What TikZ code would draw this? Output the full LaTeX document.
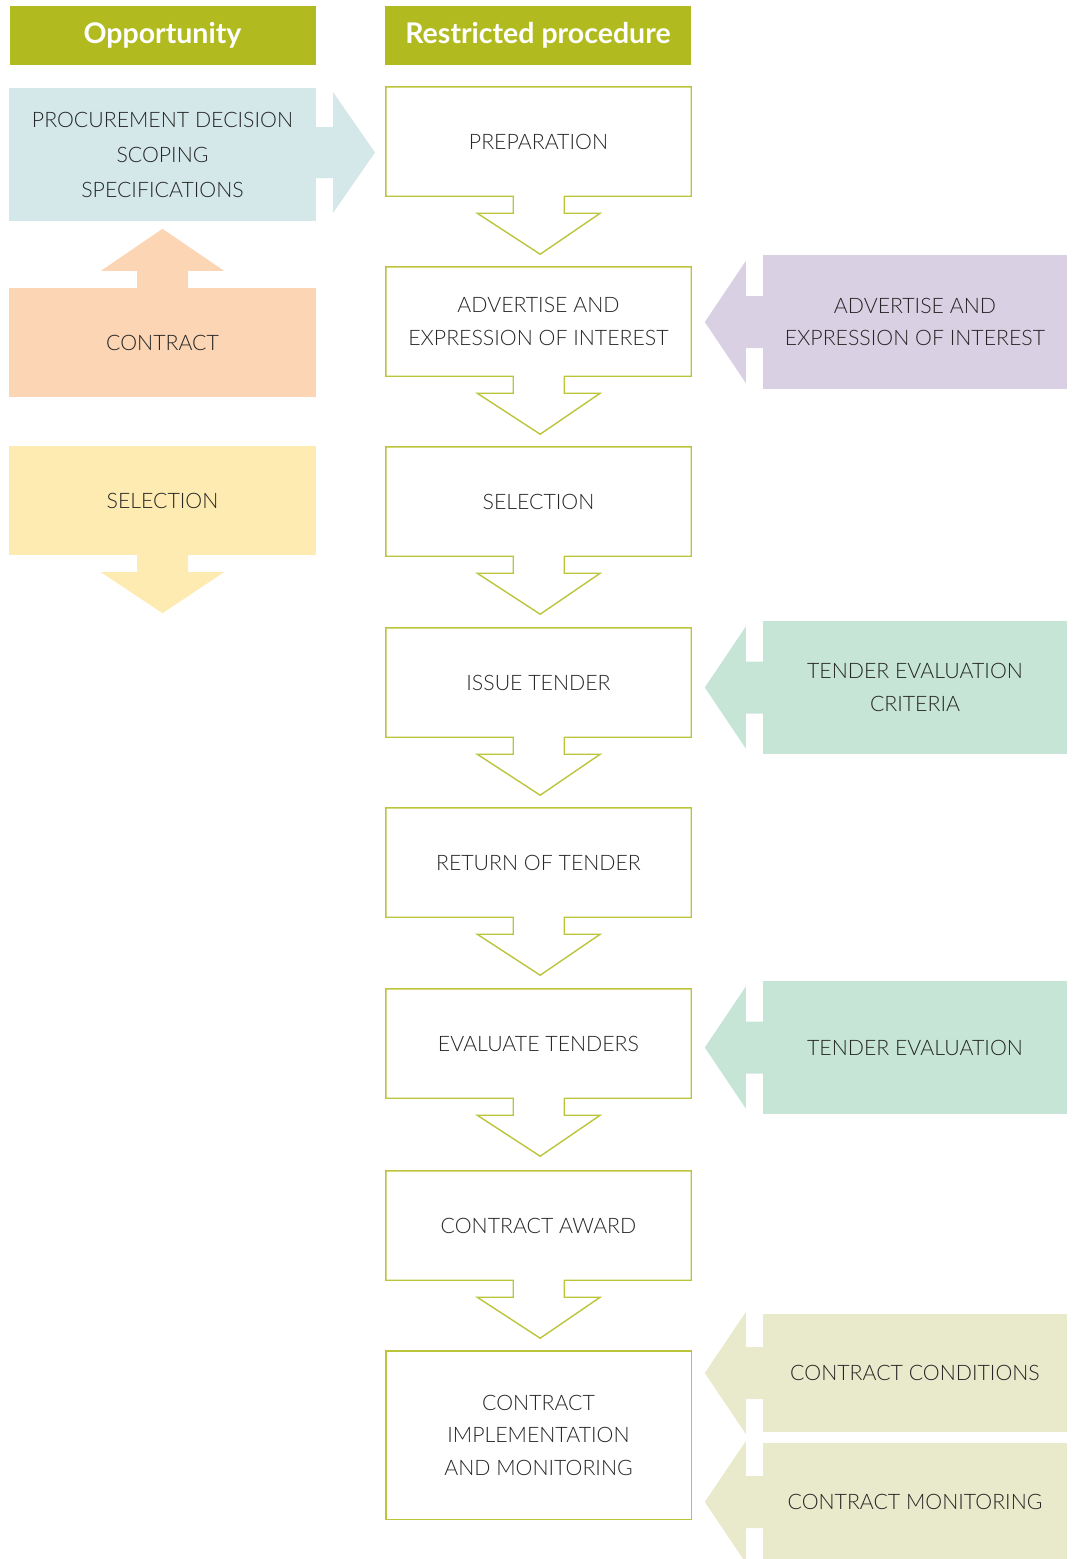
\documentclass[tikz,border=0pt]{standalone}
\usepackage{fontspec}
\setmainfont{Lato}[UprightFont=* Light, BoldFont=* Bold]
\definecolor{hdrgreen}{HTML}{B1BA1E}
\definecolor{stepline}{HTML}{BCC53A}
\definecolor{txt}{HTML}{262626}
\definecolor{cblue}{HTML}{D5E8E9}
\definecolor{cpeach}{HTML}{FCD5B4}
\definecolor{cyellow}{HTML}{FEEBB2}
\definecolor{cpurple}{HTML}{D9D0E3}
\definecolor{cmint}{HTML}{C6E5D6}
\definecolor{colive}{HTML}{E9EACB}
\begin{document}
\begin{tikzpicture}[x=1pt,y=-1pt,
  hdr/.style={fill=hdrgreen,text=white,font=\fontsize{28.5}{31}\selectfont\bfseries,
    minimum width=306pt,minimum height=59pt,inner sep=0pt},
  lbl/.style={text=txt,font=\fontsize{21.3}{32.5}\selectfont,align=center,inner sep=0pt},
  stepbox/.style={lbl,minimum width=305pt,minimum height=109pt},
  sidebox/.style={lbl,minimum width=307pt,inner sep=0pt},
  infobox/.style={lbl,minimum width=304pt,inner sep=0pt},
  outline/.style={draw=stepline,line width=1.4pt,line join=miter}]
\useasboundingbox (0,0) rectangle (1074,1559);

% column headers
\node[hdr] (hopp) at (162.5,35.5) {Opportunity};
\node[hdr] (hproc) at (538,35.5) {Restricted procedure};

% outline of a procedure step with its down arrow
\newcommand\stepdown[1]{%
  \draw[outline] (#1.north west) -- (#1.north east) -- (#1.south east)
    -- ++(-127,0) -- ++(0,17) -- ++(36,0) -- ++(-60,41) -- ++(-63,-41)
    -- ++(36,0) -- ++(0,-17) -- (#1.south west) -- cycle;}
% left-pointing arrow attached to an information box
\newcommand\pointleft[2]{%
  \fill[#2] (#1.west) ++(0,-26) -- ++(-17,0) -- ++(0,-35) -- ++(-41,61)
    -- ++(41,61) -- ++(0,-35) -- ++(17,0) -- cycle;}

% procedure steps
\node[stepbox] (prep) at (538.5,141.5) {PREPARATION};
\node[stepbox] (adv)  at (538.5,321.5) {ADVERTISE AND\\EXPRESSION OF INTEREST};
\node[stepbox] (sel)  at (538.5,501.5) {SELECTION};
\node[stepbox] (iss)  at (538.5,682.5) {ISSUE TENDER};
\node[stepbox] (ret)  at (538.5,862.5) {RETURN OF TENDER};
\node[stepbox] (eva)  at (538.5,1043.5) {EVALUATE TENDERS};
\node[stepbox] (awd)  at (538.5,1225.5) {CONTRACT AWARD};
\node[stepbox,minimum height=168pt] (imp) at (538.5,1435) {CONTRACT\\IMPLEMENTATION\\AND MONITORING};
\foreach \s in {prep,adv,sel,iss,ret,eva,awd} {\stepdown{\s}}
\draw[outline] (imp.north west) rectangle (imp.south east);

% opportunity column
\node[sidebox,fill=cblue,minimum height=133pt,font=\fontsize{21.3}{35}\selectfont] (opp) at (162.5,154.5)
  {PROCUREMENT DECISION\\SCOPING\\SPECIFICATIONS};
\fill[cblue] (316,127) -- (333,127) -- (333,92) -- (375,152.5) -- (333,213)
  -- (333,178) -- (316,178) -- cycle;

\node[sidebox,fill=cpeach,minimum height=109pt] (con) at (162.5,342.5) {CONTRACT};
\fill[cpeach] (con.north) ++(-25.5,0) -- ++(0,-17) -- ++(-36,0) -- ++(61.5,-42)
  -- ++(61.5,42) -- ++(-36,0) -- ++(0,17) -- cycle;

\node[sidebox,fill=cyellow,minimum height=109pt] (osel) at (162.5,500.5) {SELECTION};
\fill[cyellow] (osel.south) ++(-25.5,0) -- ++(0,17) -- ++(-36,0) -- ++(61.5,41)
  -- ++(61.5,-41) -- ++(-36,0) -- ++(0,-17) -- cycle;

% information feeding the procedure
\node[infobox,fill=cpurple,minimum height=134pt] (iadv) at (915,322) {ADVERTISE AND\\EXPRESSION OF INTEREST};
\pointleft{iadv}{cpurple}
\node[infobox,fill=cmint,minimum height=133pt] (icrit) at (915,687.5) {TENDER EVALUATION\\CRITERIA};
\pointleft{icrit}{cmint}
\node[infobox,fill=cmint,minimum height=133pt] (ieval) at (915,1047.5) {TENDER EVALUATION};
\pointleft{ieval}{cmint}
\node[infobox,fill=colive,minimum height=118pt] (icond) at (915,1373) {CONTRACT CONDITIONS};
\pointleft{icond}{colive}
\node[infobox,fill=colive,minimum height=118pt] (imon) at (915,1502) {CONTRACT MONITORING};
\pointleft{imon}{colive}
\end{tikzpicture}
\end{document}
